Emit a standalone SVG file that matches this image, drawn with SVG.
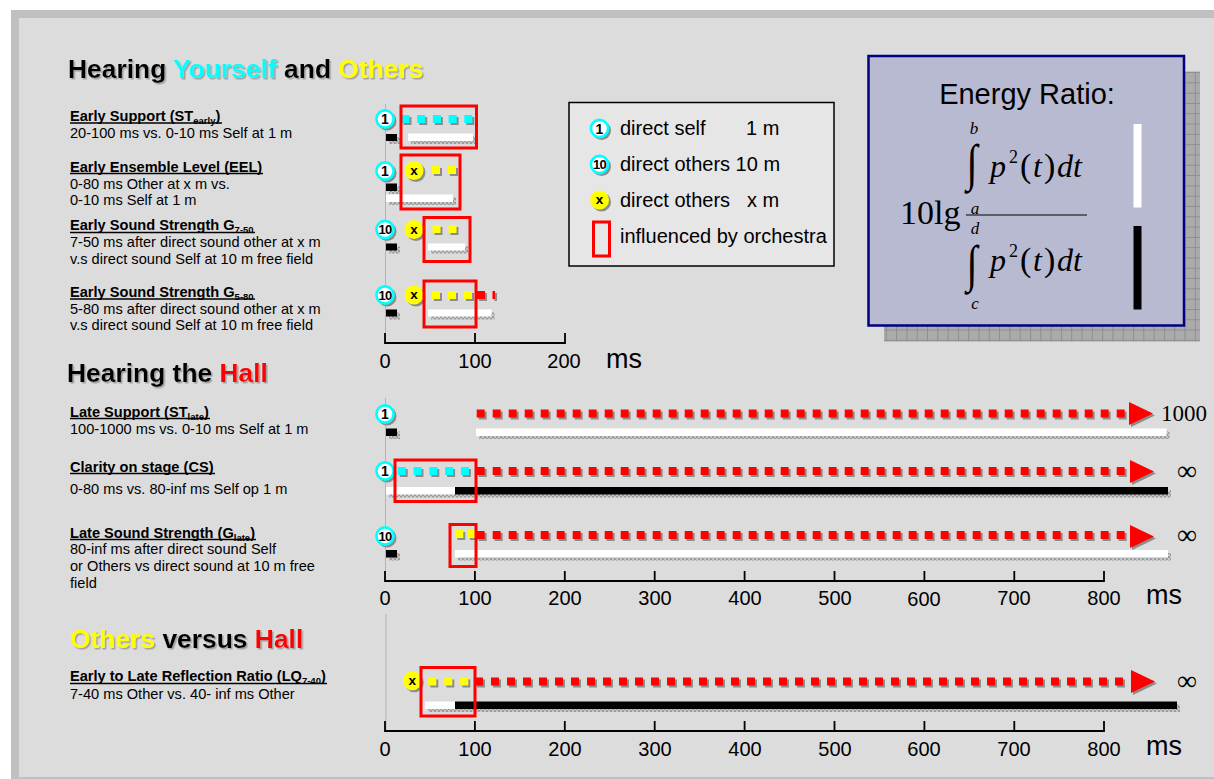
<svg xmlns="http://www.w3.org/2000/svg" width="1214" height="779" viewBox="0 0 1214 779">
<style>
.title{font-family:"Liberation Sans",Arial,sans-serif;font-weight:bold;font-size:26.4px;filter:url(#ts)}
.lbl{font-family:"Liberation Sans",Arial,sans-serif;font-weight:bold;font-size:14.6px;fill:#000}
.desc{font-family:"Liberation Sans",Arial,sans-serif;font-size:14.6px;fill:#000}
.sub{font-size:9.5px}
.ul{stroke:#000;stroke-width:1.3}
.ax{font-family:"Liberation Sans",Arial,sans-serif;font-size:20px;text-anchor:middle}
.ms{font-family:"Liberation Sans",Arial,sans-serif;font-size:27px}
.leg{font-family:"Liberation Sans",Arial,sans-serif;font-size:20px}
.ict{font-family:"Liberation Sans",Arial,sans-serif;font-weight:bold;font-size:14px;text-anchor:middle}
.serif{font-family:"Liberation Serif","Times New Roman",serif}
.it{font-family:"Liberation Serif","Times New Roman",serif;font-style:italic}
.inf{font-family:"Liberation Serif","Times New Roman",serif;font-size:28px}
.orch{fill:none;stroke:#ff0000;stroke-width:3}
.sh{fill:#8c8c8c}
.bsh{fill:url(#hatch)}
.axl{stroke:#000;stroke-width:1.8;fill:none}
.vl{stroke:#b4b4b4;stroke-width:1}
.dots{stroke-width:8;fill:none}
</style>
<defs>
<filter id="ts" x="-5%" y="-20%" width="110%" height="140%">
<feDropShadow dx="1.5" dy="1.5" stdDeviation="0" flood-color="#a0a0a0" flood-opacity="1"/>
</filter>
<pattern id="hatch" width="4" height="4" patternUnits="userSpaceOnUse">
<rect width="4" height="4" fill="#c6c6c6"/><rect width="2" height="2" fill="#9c9c9c"/><rect x="2" y="2" width="2" height="2" fill="#9c9c9c"/>
</pattern>
<pattern id="grid" width="10.3" height="10.3" patternUnits="userSpaceOnUse">
<rect width="10.3" height="10.3" fill="#ababab"/><path d="M0 0.5H10.3M0.5 0V10.3" stroke="#8e8e8e" stroke-width="1"/>
</pattern>
<g id="i1"><circle cx="2" cy="2" r="9.5" fill="#8c8c8c"/><circle r="8.6" fill="#fff" stroke="#00ffff" stroke-width="2.6"/><text class="ict" y="5">1</text></g>
<g id="i10"><circle cx="2" cy="2" r="9.5" fill="#8c8c8c"/><circle r="8.6" fill="#fff" stroke="#00ffff" stroke-width="2.6"/><text class="ict" y="4.8" style="font-size:13px;letter-spacing:-0.8px">10</text></g>
<g id="ix"><circle cx="2" cy="2" r="9.5" fill="#8c8c8c"/><circle r="9.5" fill="#ffff00"/><text class="ict" y="4.2" style="font-size:13.5px">x</text></g>
<g id="arrow"><path d="M2 2L26 13.5L2 25Z" fill="#8c8c8c"/><path d="M0 0L24 11.5L0 23Z" fill="#ff0000"/></g>
</defs>

<rect width="1214" height="779" fill="#fff"/>
<rect x="11" y="10" width="1203" height="769" fill="#c0c0c0"/>
<rect x="19" y="18" width="1195" height="759" fill="#dcdcdc"/>

<!-- section titles -->
<g id="title-yourself">
<text class="title" x="68" y="78"><tspan fill="#000">Hearing </tspan><tspan fill="#00ffff">Yourself</tspan><tspan fill="#000"> and </tspan><tspan fill="#ffff00">Others</tspan></text>
</g>
<g id="title-hall">
<text class="title" x="67" y="382"><tspan fill="#000">Hearing the </tspan><tspan fill="#ff0000">Hall</tspan></text>
</g>
<g id="title-others-hall">
<text class="title" x="70" y="648"><tspan fill="#ffff00">Others</tspan><tspan fill="#000"> versus </tspan><tspan fill="#ff0000">Hall</tspan></text>
</g>

<!-- labels -->
<g id="label-st-early">
<text class="lbl" x="70" y="121">Early Support (ST<tspan class="sub" dy="3">early</tspan><tspan dy="-3">)</tspan></text>
<line class="ul" x1="70" y1="123" x2="222" y2="123"/>
<text class="desc" x="70" y="138">20-100 ms vs. 0-10 ms Self at 1 m</text>
</g>
<g id="label-eel">
<text class="lbl" x="70" y="171.5">Early Ensemble Level (EEL)</text>
<line class="ul" x1="70" y1="173.5" x2="263" y2="173.5"/>
<text class="desc" x="70" y="188.5">0-80 ms Other at x m vs.</text>
<text class="desc" x="70" y="205">0-10 ms Self at 1 m</text>
</g>
<g id="label-g750">
<text class="lbl" x="70" y="230">Early Sound Strength G<tspan class="sub" dy="3">7-50</tspan></text>
<line class="ul" x1="70" y1="232.5" x2="255" y2="232.5"/>
<text class="desc" x="70" y="247">7-50 ms after direct sound other at x m</text>
<text class="desc" x="70" y="264">v.s direct sound Self at 10 m free field</text>
</g>
<g id="label-g580">
<text class="lbl" x="70" y="296.5">Early Sound Strength G<tspan class="sub" dy="3">5-80</tspan></text>
<line class="ul" x1="70" y1="299" x2="255" y2="299"/>
<text class="desc" x="70" y="313.5">5-80 ms after direct sound other at x m</text>
<text class="desc" x="70" y="330">v.s direct sound Self at 10 m free field</text>
</g>
<g id="label-st-late">
<text class="lbl" x="70" y="416.5">Late Support (ST<tspan class="sub" dy="3">late</tspan><tspan dy="-3">)</tspan></text>
<line class="ul" x1="70" y1="418.5" x2="210" y2="418.5"/>
<text class="desc" x="70" y="433.5">100-1000 ms vs. 0-10 ms Self at 1 m</text>
</g>
<g id="label-cs">
<text class="lbl" x="70" y="471.5">Clarity on stage (CS)</text>
<line class="ul" x1="70" y1="473.5" x2="215" y2="473.5"/>
<text class="desc" x="70" y="493.5">0-80 ms vs. 80-inf ms Self op 1 m</text>
</g>
<g id="label-g-late">
<text class="lbl" x="70" y="537.5">Late Sound Strength (G<tspan class="sub" dy="3">late</tspan><tspan dy="-3">)</tspan></text>
<line class="ul" x1="70" y1="539.5" x2="256" y2="539.5"/>
<text class="desc" x="70" y="554">80-inf ms after direct sound Self</text>
<text class="desc" x="70" y="571">or Others vs direct sound at 10 m free</text>
<text class="desc" x="70" y="587.5">field</text>
</g>
<g id="label-lq">
<text class="lbl" x="70" y="681">Early to Late Reflection Ratio (LQ<tspan class="sub" dy="3">7-40</tspan><tspan dy="-3">)</tspan></text>
<line class="ul" x1="70" y1="683.5" x2="327" y2="683.5"/>
<text class="desc" x="70" y="698.5">7-40 ms Other vs. 40- inf ms Other</text>
</g>

<!-- axes -->
<g id="axes">
<line class="vl" x1="385.5" y1="104" x2="385.5" y2="343"/>
<path class="axl" d="M385 333V343H565V333M475 343V333"/>
<text class="ax" x="385" y="368">0</text><text class="ax" x="475" y="368">100</text><text class="ax" x="564" y="368">200</text>
<text class="ms" x="606" y="368">ms</text>

<line class="vl" x1="385.5" y1="398" x2="385.5" y2="581"/>
<path class="axl" d="M385 571V581H1104V571M474.9 581V571M564.8 581V571M654.7 581V571M744.6 581V571M834.5 581V571M924.4 581V571M1014.3 581V571"/>
<text class="ax" x="385" y="605">0</text><text class="ax" x="475" y="605">100</text><text class="ax" x="565" y="605">200</text><text class="ax" x="655" y="605">300</text><text class="ax" x="745" y="605">400</text><text class="ax" x="835" y="605">500</text><text class="ax" x="924" y="606">600</text><text class="ax" x="1014" y="605">700</text><text class="ax" x="1104" y="605">800</text>
<text class="ms" x="1146" y="604">ms</text>

<line class="vl" x1="386" y1="614" x2="386" y2="731"/>
<path class="axl" d="M385 721V731H1104V721M474.9 731V721M564.8 731V721M654.7 731V721M744.6 731V721M834.5 731V721M924.4 731V721M1014.3 731V721"/>
<text class="ax" x="385" y="756">0</text><text class="ax" x="475" y="756">100</text><text class="ax" x="565" y="756">200</text><text class="ax" x="655" y="756">300</text><text class="ax" x="745" y="756">400</text><text class="ax" x="835" y="756">500</text><text class="ax" x="924" y="756">600</text><text class="ax" x="1014" y="756">700</text><text class="ax" x="1104" y="756">800</text>
<text class="ms" x="1146" y="755">ms</text>
</g>

<!-- top chart rows -->
<g id="row-st-early">
<use href="#i1" x="385" y="119"/>
<line class="dots" x1="403.5" y1="121" x2="474.3" y2="121" stroke="#8c8c8c" stroke-dasharray="8 7.7"/>
<line class="dots" x1="401.5" y1="119" x2="472.3" y2="119" stroke="#00ffff" stroke-dasharray="8 7.7"/>
<rect class="bsh" x="389" y="137" width="11" height="7"/><rect x="386" y="134" width="11" height="7" fill="#000"/>
<rect class="bsh" x="411" y="136.5" width="65" height="7.5"/><rect x="408" y="133.5" width="65" height="7.5" fill="#fff"/>
<rect class="orch" x="401" y="106" width="75.5" height="42"/>
</g>
<g id="row-eel">
<use href="#i1" x="385" y="171"/>
<use href="#ix" x="414" y="170.5"/>
<line class="dots" x1="434" y1="172" x2="458" y2="172" stroke="#8c8c8c" stroke-dasharray="8 8"/>
<line class="dots" x1="432" y1="170" x2="456" y2="170" stroke="#ffff00" stroke-dasharray="8 8"/>
<rect class="bsh" x="389" y="186.5" width="11" height="7.5"/><rect x="386" y="183.5" width="11" height="7.5" fill="#000"/>
<rect class="bsh" x="389" y="197.5" width="67" height="7.5"/><rect x="386" y="194.5" width="67" height="7.5" fill="#fff"/>
<rect class="orch" x="401" y="155" width="59" height="54"/>
</g>
<g id="row-g750">
<use href="#i10" x="385" y="229.5"/>
<use href="#ix" x="414" y="229.5"/>
<line class="dots" x1="434.5" y1="231" x2="458.5" y2="231" stroke="#8c8c8c" stroke-dasharray="8 8"/>
<line class="dots" x1="432.5" y1="229" x2="456.5" y2="229" stroke="#ffff00" stroke-dasharray="8 8"/>
<rect class="bsh" x="389" y="246.5" width="11" height="7"/><rect x="386" y="243.5" width="11" height="7" fill="#000"/>
<rect class="bsh" x="431" y="246.5" width="37" height="7"/><rect x="428" y="243.5" width="37" height="7" fill="#fff"/>
<rect class="orch" x="424" y="217.5" width="46" height="44"/>
</g>
<g id="row-g580">
<use href="#i10" x="385" y="295"/>
<use href="#ix" x="414" y="295"/>
<line class="dots" x1="434" y1="297" x2="474" y2="297" stroke="#8c8c8c" stroke-dasharray="8 8"/>
<line class="dots" x1="432" y1="295" x2="472" y2="295" stroke="#ffff00" stroke-dasharray="8 8"/>
<rect x="479" y="293" width="8" height="8" class="sh"/><rect x="477" y="291" width="8" height="8" fill="#ff0000"/>
<rect x="494.5" y="293" width="2.5" height="8" class="sh"/><rect x="492.5" y="291" width="2.5" height="8" fill="#ff0000"/>
<rect class="bsh" x="389" y="312.5" width="11" height="7"/><rect x="386" y="309.5" width="11" height="7" fill="#000"/>
<rect class="bsh" x="431" y="312.5" width="63.5" height="7"/><rect x="428" y="309.5" width="63.5" height="7" fill="#fff"/>
<rect class="orch" x="424" y="281" width="52" height="46"/>
</g>

<!-- middle chart rows -->
<g id="row-st-late">
<use href="#i1" x="385" y="414"/>
<rect class="bsh" x="389" y="431.5" width="11" height="7.5"/><rect x="386" y="428.5" width="11" height="7.5" fill="#000"/>
<line class="dots" x1="478.7" y1="415.5" x2="1126.7" y2="415.5" stroke="#8c8c8c" stroke-dasharray="8 8"/>
<line class="dots" x1="476.7" y1="413.5" x2="1124.7" y2="413.5" stroke="#ff0000" stroke-dasharray="8 8"/>
<use href="#arrow" x="1129" y="402"/>
<text class="serif" x="1161" y="421" style="font-size:23px">1000</text>
<rect class="bsh" x="479" y="431.5" width="690.5" height="7.5"/><rect x="476" y="428.5" width="690.5" height="7.5" fill="#fff"/>
</g>
<g id="row-cs">
<use href="#i1" x="385" y="471"/>
<line class="dots" x1="399.7" y1="473" x2="470.9" y2="473" stroke="#8c8c8c" stroke-dasharray="8 7.8"/>
<line class="dots" x1="397.7" y1="471" x2="468.9" y2="471" stroke="#00ffff" stroke-dasharray="8 7.8"/>
<line class="dots" x1="478.7" y1="473" x2="1126.7" y2="473" stroke="#8c8c8c" stroke-dasharray="8 8"/>
<line class="dots" x1="476.7" y1="471" x2="1124.7" y2="471" stroke="#ff0000" stroke-dasharray="8 8"/>
<use href="#arrow" x="1130" y="460"/>
<text class="inf" x="1177" y="480">∞</text>
<rect class="bsh" x="389" y="490" width="782" height="7.5"/>
<rect x="386" y="487" width="69" height="7.5" fill="#fff"/><rect x="455" y="487" width="713" height="7.5" fill="#000"/>
<rect class="orch" x="395" y="460" width="81" height="41.5"/>
</g>
<g id="row-g-late">
<use href="#i10" x="385" y="536"/>
<rect class="bsh" x="389" y="553" width="11" height="7.5"/><rect x="386" y="550" width="11" height="7.5" fill="#000"/>
<rect x="457.3" y="532" width="8" height="8" class="sh"/><rect x="455.3" y="530" width="8" height="8" fill="#ffff00"/>
<rect x="470" y="532" width="8" height="8" class="sh"/><rect x="468" y="530" width="8" height="8" fill="#ffff00"/>
<line class="dots" x1="478.7" y1="537" x2="1126.7" y2="537" stroke="#8c8c8c" stroke-dasharray="8 8"/>
<line class="dots" x1="476.7" y1="535" x2="1124.7" y2="535" stroke="#ff0000" stroke-dasharray="8 8"/>
<use href="#arrow" x="1130" y="525"/>
<text class="inf" x="1177" y="544">∞</text>
<rect class="bsh" x="458" y="553" width="713" height="7.5"/><rect x="455" y="550" width="713" height="7.5" fill="#fff"/>
<rect class="orch" x="450" y="524.5" width="26" height="42"/>
</g>

<!-- bottom chart row -->
<g id="row-lq">
<use href="#ix" x="412.3" y="680.7"/>
<line class="dots" x1="430.3" y1="683.5" x2="470.3" y2="683.5" stroke="#8c8c8c" stroke-dasharray="8 8"/>
<line class="dots" x1="428.3" y1="681.5" x2="468.3" y2="681.5" stroke="#ffff00" stroke-dasharray="8 8"/>
<line class="dots" x1="477" y1="683.5" x2="1125" y2="683.5" stroke="#8c8c8c" stroke-dasharray="8 8"/>
<line class="dots" x1="475" y1="681.5" x2="1123" y2="681.5" stroke="#ff0000" stroke-dasharray="8 8"/>
<use href="#arrow" x="1131" y="670"/>
<text class="inf" x="1177" y="690">∞</text>
<rect class="bsh" x="428" y="704.5" width="752" height="7.5"/>
<rect x="425" y="701.5" width="30" height="7.5" fill="#fff"/><rect x="455" y="701.5" width="722" height="7.5" fill="#000"/>
<rect class="orch" x="421" y="667.5" width="54" height="48.5"/>
</g>

<!-- legend -->
<g id="legend">
<rect x="569" y="102.5" width="265" height="163.5" fill="#e6e6e6" stroke="#000" stroke-width="1.5"/>
<use href="#i1" x="599.5" y="128.5"/>
<text class="leg" x="620" y="134.5">direct self</text><text class="leg" x="746" y="134.5">1 m</text>
<use href="#i10" x="599.5" y="164.5"/>
<text class="leg" x="620" y="170.5">direct others 10 m</text>
<use href="#ix" x="599.5" y="200"/>
<text class="leg" x="620" y="206.5">direct others</text><text class="leg" x="747" y="206.5">x m</text>
<rect class="orch" x="593.5" y="222" width="16" height="34"/>
<text class="leg" x="620" y="242.5">influenced by orchestra</text>
</g>

<!-- energy ratio -->
<g id="energy-ratio">
<rect x="884" y="71.5" width="316" height="270" fill="url(#grid)"/>
<rect x="868.5" y="56" width="315.5" height="269.5" fill="#b8bad2" stroke="#000080" stroke-width="2.5"/>
<text x="1027" y="104" text-anchor="middle" style="font-family:'Liberation Sans',Arial,sans-serif;font-size:29px">Energy Ratio:</text>
<text class="it" x="974" y="134" text-anchor="middle" style="font-size:17px">b</text>
<text class="serif" x="0" y="0" text-anchor="middle" transform="translate(972,180) scale(1,1.28)" style="font-size:40px">∫</text>
<text class="it" x="990" y="177" style="font-size:32px">p</text>
<text class="serif" x="1009" y="163" style="font-size:18px">2</text>
<text class="serif" x="1020" y="177" style="font-size:34px">(</text>
<text class="it" x="1033" y="177" style="font-size:32px">t</text>
<text class="serif" x="1044" y="177" style="font-size:34px">)</text>
<text class="it" x="1057" y="177" style="font-size:32px">dt</text>
<text class="it" x="975" y="213.5" text-anchor="middle" style="font-size:17px">a</text>
<text class="serif" x="900" y="224" style="font-size:34px">10lg</text>
<line x1="966" y1="215" x2="1087" y2="215" stroke="#000" stroke-width="1.2"/>
<text class="it" x="975" y="233.5" text-anchor="middle" style="font-size:17px">d</text>
<text class="serif" x="0" y="0" text-anchor="middle" transform="translate(972,281) scale(1,1.28)" style="font-size:40px">∫</text>
<text class="it" x="990" y="271" style="font-size:32px">p</text>
<text class="serif" x="1009" y="257" style="font-size:18px">2</text>
<text class="serif" x="1020" y="271" style="font-size:34px">(</text>
<text class="it" x="1033" y="271" style="font-size:32px">t</text>
<text class="serif" x="1044" y="271" style="font-size:34px">)</text>
<text class="it" x="1057" y="271" style="font-size:32px">dt</text>
<text class="it" x="975" y="308.5" text-anchor="middle" style="font-size:17px">c</text>
<rect x="1133.5" y="124" width="8" height="83.5" fill="#fff"/>
<rect x="1133.5" y="226" width="8" height="83.5" fill="#000"/>
</g>
</svg>
